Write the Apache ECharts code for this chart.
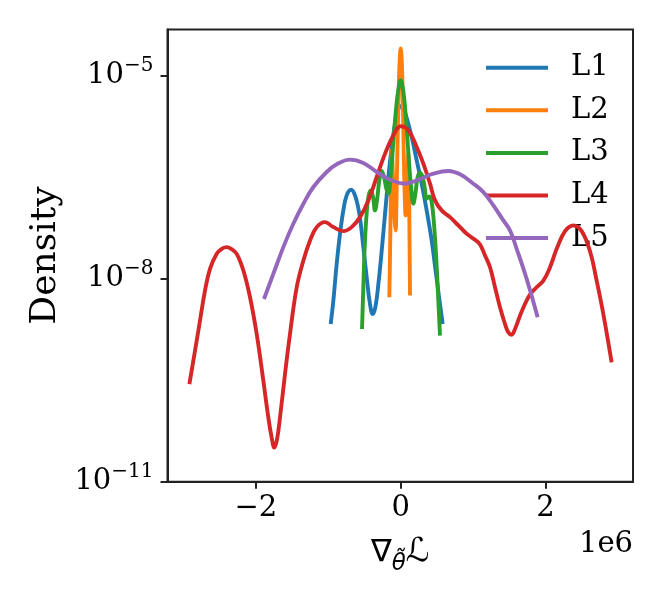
<!DOCTYPE html>
<html>
<head>
<meta charset="utf-8">
<script src="https://cdn.jsdelivr.net/npm/echarts@6/dist/echarts.min.js"></script>
<style>
  html, body { margin: 0; padding: 0; background: #fff; }
  #chart { width: 663px; height: 600px; }
</style>
</head>
<body>
<div id="chart"></div>
<script>
// ---- Data (x in units of 1e6, y = log10(Density)) ----
const seriesNames = ['L1', 'L2', 'L3', 'L4', 'L5'];
const seriesColors = ['#1f77b4', '#ff7f0e', '#2ca02c', '#d62728', '#9467bd'];

const xTickValues = [-2, 0, 2];
const yTickExponents = [-11, -8, -5];
const xOffsetLabel = '1e6';

const l1X = [-0.967, -0.930, -0.884, -0.838, -0.792, -0.746, -0.686, -0.631, -0.571, -0.516, -0.470, -0.424, -0.387, -0.350, -0.308, -0.262, -0.216, -0.170, -0.124, -0.078, -0.037, 0.000, 0.046, 0.092, 0.152, 0.221, 0.290, 0.359, 0.428, 0.488, 0.543, 0.580];
const l1LogDensity = [-8.669, -8.323, -7.780, -7.336, -6.990, -6.768, -6.684, -6.768, -7.040, -7.533, -7.978, -8.373, -8.521, -8.422, -8.077, -7.583, -7.040, -6.496, -6.052, -5.706, -5.509, -5.449, -5.509, -5.657, -5.904, -6.249, -6.595, -6.990, -7.435, -7.928, -8.373, -8.669];

const l2X = [-0.157, -0.147, -0.138, -0.129, -0.124, -0.115, -0.101, -0.083, -0.069, -0.060, -0.046, -0.028, -0.014, 0.000, 0.014, 0.028, 0.041, 0.055, 0.069, 0.083, 0.097, 0.106, 0.115, 0.120, 0.129];
const l2LogDensity = [-8.274, -7.632, -6.941, -6.348, -6.101, -6.249, -6.644, -7.138, -7.286, -6.941, -6.151, -5.262, -4.768, -4.595, -4.768, -5.262, -6.052, -6.743, -7.064, -6.842, -6.348, -6.151, -6.546, -7.138, -8.249];

const l3X = [-0.534, -0.516, -0.497, -0.474, -0.447, -0.414, -0.382, -0.355, -0.327, -0.295, -0.262, -0.230, -0.198, -0.170, -0.143, -0.110, -0.078, -0.046, -0.018, 0.000, 0.018, 0.046, 0.078, 0.110, 0.143, 0.175, 0.203, 0.235, 0.267, 0.299, 0.331, 0.359, 0.396, 0.428, 0.460, 0.493, 0.520, 0.543];
const l3LogDensity = [-8.743, -8.126, -7.533, -7.089, -6.793, -6.694, -6.793, -6.990, -6.842, -6.546, -6.407, -6.496, -6.669, -6.743, -6.546, -6.101, -5.657, -5.311, -5.114, -5.064, -5.114, -5.311, -5.706, -6.200, -6.644, -6.891, -6.743, -6.496, -6.437, -6.486, -6.644, -6.817, -6.783, -6.867, -7.188, -7.731, -8.323, -8.842];

const l4X = [-2.919, -2.841, -2.772, -2.703, -2.634, -2.541, -2.472, -2.403, -2.334, -2.265, -2.173, -2.081, -1.989, -1.897, -1.828, -1.782, -1.745, -1.708, -1.667, -1.598, -1.529, -1.436, -1.344, -1.252, -1.160, -1.045, -0.930, -0.792, -0.677, -0.562, -0.447, -0.331, -0.216, -0.101, 0.000, 0.106, 0.221, 0.313, 0.405, 0.474, 0.566, 0.681, 0.797, 0.912, 1.027, 1.096, 1.165, 1.234, 1.303, 1.372, 1.441, 1.487, 1.533, 1.579, 1.648, 1.717, 1.786, 1.878, 1.971, 2.063, 2.155, 2.270, 2.385, 2.500, 2.615, 2.707, 2.799, 2.914];
const l4LogDensity = [-9.558, -9.064, -8.620, -8.175, -7.854, -7.632, -7.558, -7.533, -7.563, -7.632, -7.879, -8.274, -8.817, -9.509, -10.052, -10.348, -10.496, -10.373, -10.052, -9.410, -8.817, -8.126, -7.731, -7.435, -7.237, -7.163, -7.237, -7.296, -7.237, -7.089, -6.842, -6.496, -6.151, -5.879, -5.746, -5.805, -6.052, -6.299, -6.595, -6.842, -6.990, -7.089, -7.212, -7.336, -7.425, -7.494, -7.657, -7.830, -8.126, -8.422, -8.669, -8.793, -8.827, -8.743, -8.546, -8.373, -8.235, -8.126, -8.027, -7.830, -7.558, -7.296, -7.212, -7.296, -7.593, -8.027, -8.521, -9.237];

const l5X = [-1.888, -1.759, -1.621, -1.483, -1.344, -1.206, -1.022, -0.884, -0.700, -0.516, -0.331, -0.147, 0.060, 0.267, 0.451, 0.658, 0.820, 1.004, 1.142, 1.280, 1.418, 1.510, 1.602, 1.740, 1.892];
const l5LogDensity = [-8.299, -7.928, -7.533, -7.188, -6.891, -6.644, -6.422, -6.309, -6.240, -6.289, -6.422, -6.536, -6.595, -6.526, -6.447, -6.407, -6.457, -6.595, -6.719, -6.916, -7.138, -7.286, -7.558, -8.002, -8.570];

const xs = [l1X, l2X, l3X, l4X, l5X];
const ys = [l1LogDensity, l2LogDensity, l3LogDensity, l4LogDensity, l5LogDensity];

// ---- Chart ----
const FONT = 'DejaVu Serif';
const chart = echarts.init(document.getElementById('chart'), null, { renderer: 'canvas' });

const series = seriesNames.map((name, i) => ({
  name: name,
  type: 'line',
  data: xs[i].map((x, j) => [x, ys[i][j]]),
  showSymbol: false,
  symbol: 'none',
  smooth: 0.4,
  lineStyle: { color: seriesColors[i], width: 3.9, join: 'round' },
  itemStyle: { color: seriesColors[i] },
  emphasis: { disabled: true },
  z: 2 + i
}));

const option = {
  backgroundColor: '#ffffff',
  animation: false,
  grid: {
    left: 167.5, right: 30, top: 29.5, bottom: 118.3,
    show: true, borderColor: '#222', borderWidth: 2, backgroundColor: 'transparent'
  },
  legend: {
    orient: 'vertical',
    left: 486, top: 53.2,
    padding: 0,
    icon: 'rect',
    itemWidth: 62, itemHeight: 4, itemGap: 13.6,
    textStyle: { fontFamily: FONT, fontSize: 29, lineHeight: 29, color: '#000', padding: [0, 0, 0, 18] },
    data: seriesNames
  },
  xAxis: {
    type: 'value',
    min: -3.221, max: 3.209,
    splitLine: { show: false },
    axisLine: { show: true, onZero: false, lineStyle: { color: '#222', width: 2 } },
    axisTick: { show: true, length: 7, lineStyle: { color: '#222', width: 2 }, customValues: xTickValues },
    axisLabel: {
      customValues: xTickValues,
      margin: 12.5,
      fontFamily: FONT, fontSize: 29, lineHeight: 29, color: '#000',
      formatter: v => (v < 0 ? '\u2212' + Math.abs(v) : String(v))
    },
    name: '{n|\u2207}{t|\u03b8\u0303}{l|\u2112}',
    nameLocation: 'middle',
    nameGap: 48,
    nameTextStyle: {
      rich: {
        n: { fontFamily: 'DejaVu Sans', fontSize: 31, lineHeight: 46, color: '#000' },
        t: { fontFamily: 'DejaVu Sans', fontStyle: 'italic', fontSize: 23, lineHeight: 23, verticalAlign: 'bottom', color: '#000' },
        l: { fontFamily: 'DejaVu Sans', fontSize: 33, lineHeight: 46, color: '#000' }
      }
    }
  },
  yAxis: {
    type: 'value',
    min: -11, max: -4.316,
    splitLine: { show: false },
    axisLine: { show: true, onZero: false, lineStyle: { color: '#222', width: 2 } },
    axisTick: { show: true, length: 7, lineStyle: { color: '#222', width: 2 }, customValues: yTickExponents },
    axisLabel: {
      customValues: yTickExponents,
      margin: 14,
      formatter: v => '{b|10}{s|\u2212' + Math.abs(v) + '}',
      rich: {
        b: { fontFamily: FONT, fontSize: 29, lineHeight: 40, color: '#000' },
        s: { fontFamily: FONT, fontSize: 20, lineHeight: 20, verticalAlign: 'top', color: '#000' }
      }
    },
    name: 'Density',
    nameLocation: 'middle',
    nameGap: 103,
    nameTextStyle: { fontFamily: FONT, fontSize: 36, lineHeight: 36, color: '#000', padding: [0, 0, 0, 0] }
  },
  graphic: [{
    type: 'text',
    right: 30, top: 530,
    style: { text: xOffsetLabel, fontFamily: FONT, fontSize: 29, fill: '#000' }
  }],
  series: series
};
chart.setOption(option);
</script>
</body>
</html>
